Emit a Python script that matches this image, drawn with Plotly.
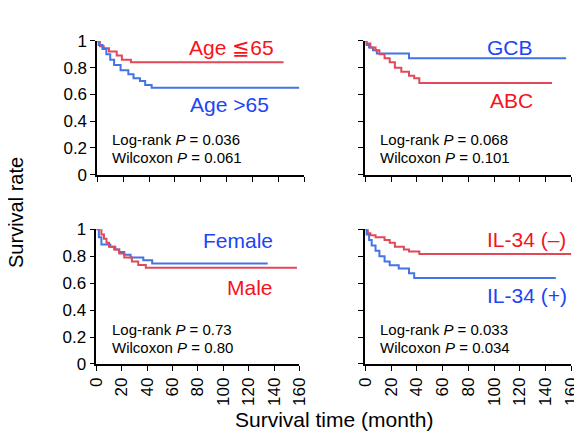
import plotly.graph_objects as go

W, H = 582, 431

# ---- data (months, survival rate) ----
age_le65_t = [0, 2, 5, 9, 15, 19, 26, 144]
age_le65_s = [1.0, 0.96, 0.945, 0.92, 0.89, 0.86, 0.84, 0.84]
age_gt65_t = [0, 1, 4, 7, 10, 13, 18, 24, 28, 33, 37, 42, 156]
age_gt65_s = [1.0, 0.97, 0.94, 0.90, 0.86, 0.82, 0.78, 0.75, 0.72, 0.70, 0.67, 0.65, 0.65]

gcb_t = [0, 1, 3, 6, 9, 34, 156]
gcb_s = [1.0, 0.97, 0.95, 0.93, 0.905, 0.87, 0.87]
abc_t = [0, 1, 4, 8, 11, 15, 19, 23, 28, 34, 38, 42, 145]
abc_s = [1.0, 0.98, 0.95, 0.93, 0.90, 0.87, 0.84, 0.80, 0.77, 0.74, 0.72, 0.686, 0.686]

female_t = [0, 2, 4, 11, 15, 18, 22, 27, 37, 44, 135]
female_s = [1.0, 0.94, 0.887, 0.87, 0.85, 0.83, 0.81, 0.79, 0.77, 0.745, 0.745]
male_t = [0, 4, 6, 8, 10, 14, 18, 22, 28, 33, 39, 158]
male_s = [1.0, 0.96, 0.93, 0.90, 0.87, 0.85, 0.82, 0.79, 0.76, 0.735, 0.714, 0.714]

il34_neg_t = [0, 2, 4, 8, 15, 19, 23, 30, 34, 42, 160]
il34_neg_s = [1.0, 0.97, 0.955, 0.94, 0.92, 0.90, 0.87, 0.85, 0.835, 0.816, 0.816]
il34_pos_t = [0, 1, 3, 5, 8, 11, 15, 19, 26, 34, 38, 148]
il34_pos_s = [1.0, 0.96, 0.92, 0.88, 0.84, 0.80, 0.76, 0.733, 0.709, 0.674, 0.638, 0.638]

x_ticks = [0, 20, 40, 60, 80, 100, 120, 140, 160]
y_ticks = [0, 0.2, 0.4, 0.6, 0.8, 1]
y_tick_text = ["0", "0.2", "0.4", "0.6", "0.8", "1"]

pvals = [("0.036", "0.061"), ("0.068", "0.101"), ("0.73", "0.80"), ("0.033", "0.034")]

RED_LINE = "#e04a58"
BLUE_LINE = "#4374e6"
RED_TXT = "#f5141c"
BLUE_TXT = "#1d44f5"
FONT = "Liberation Sans, Arial, sans-serif"

def px(x):
    return x / W

def py(y):
    return 1 - y / H

# panel pixel boxes: (x0, x1, ytop, ybottom)
panels = [
    (83, 297, 25, 165),
    (360, 573, 25, 165),
    (82, 292, 222, 363),
    (360, 573, 222, 363),
]

fig = go.Figure()
series = [
    [(age_le65_t, age_le65_s, RED_LINE), (age_gt65_t, age_gt65_s, BLUE_LINE)],
    [(gcb_t, gcb_s, BLUE_LINE), (abc_t, abc_s, RED_LINE)],
    [(female_t, female_s, BLUE_LINE), (male_t, male_s, RED_LINE)],
    [(il34_neg_t, il34_neg_s, RED_LINE), (il34_pos_t, il34_pos_s, BLUE_LINE)],
]

layout = {}
for i, (x0, x1, yt, yb) in enumerate(panels):
    n = i + 1
    xa = "xaxis" if n == 1 else f"xaxis{n}"
    ya = "yaxis" if n == 1 else f"yaxis{n}"
    xr = "x" if n == 1 else f"x{n}"
    yr = "y" if n == 1 else f"y{n}"
    for t, s, c in series[i]:
        fig.add_trace(go.Scatter(x=t, y=s, mode="lines", line=dict(color=c, width=2, shape="hv"),
                                 xaxis=xr, yaxis=yr, showlegend=False, hoverinfo="skip"))
    bottom = i >= 2
    left = i % 2 == 0
    layout[xa] = dict(domain=[px(x0), px(x1)], range=[0, 160], anchor=yr, showline=True,
                      linecolor="black", linewidth=1.6, ticks="outside", ticklen=5, tickwidth=1.3,
                      tickcolor="black", tickvals=x_ticks, showticklabels=bottom, tickangle=-90,
                      showgrid=False, zeroline=False, fixedrange=True,
                      tickfont=dict(family=FONT, size=17, color="black"))
    layout[ya] = dict(domain=[py(yb), py(yt)], range=[0, 1], anchor=xr, showline=True,
                      linecolor="black", linewidth=1.6, ticks="outside", ticklen=5, tickwidth=1.3,
                      tickcolor="black", tickvals=y_ticks, ticktext=y_tick_text, showticklabels=left,
                      showgrid=False, zeroline=False, fixedrange=True,
                      tickfont=dict(family=FONT, size=17, color="black"))

annotations = []

def label(text, x, y, color, size=21):
    annotations.append(dict(text=text, x=px(x), y=py(y), xref="paper", yref="paper",
                            xanchor="center", yanchor="middle", showarrow=False,
                            font=dict(family=FONT, size=size, color=color)))

label("Age ≦65", 222, 32, RED_TXT)
label("Age >65", 220, 92, BLUE_TXT)
label("GCB", 510, 32, BLUE_TXT)
label("ABC", 511, 87, RED_TXT)
label("Female", 228, 234, BLUE_TXT)
label("Male", 241, 283, RED_TXT)
label("IL-34 (–)", 527, 233, RED_TXT)
label("IL-34 (+)", 527, 291, BLUE_TXT)

p_pos = [(96, 128), (373, 128), (96, 327), (373, 327)]
for (lr, wx), (x, y) in zip(pvals, p_pos):
    annotations.append(dict(text=f"Log-rank <i>P</i> = {lr}", x=px(x), y=py(y), xref="paper", yref="paper",
                            xanchor="left", yanchor="middle", showarrow=False,
                            font=dict(family=FONT, size=15, color="black")))
    annotations.append(dict(text=f"Wilcoxon <i>P</i> = {wx}", x=px(x), y=py(y + 19), xref="paper", yref="paper",
                            xanchor="left", yanchor="middle", showarrow=False,
                            font=dict(family=FONT, size=15, color="black")))

annotations.append(dict(text="Survival rate", x=px(-1), y=py(205), xref="paper", yref="paper",
                        xanchor="center", yanchor="middle", showarrow=False, textangle=-90,
                        font=dict(family=FONT, size=20, color="black")))
annotations.append(dict(text="Survival time (month)", x=px(328), y=py(421), xref="paper", yref="paper",
                        xanchor="center", yanchor="middle", showarrow=False,
                        font=dict(family=FONT, size=21, color="black")))

fig.update_layout(width=W, height=H, margin=dict(l=0, r=0, t=0, b=0),
                  paper_bgcolor="white", plot_bgcolor="white",
                  annotations=annotations, **layout)

fig.write_html("out.html")
